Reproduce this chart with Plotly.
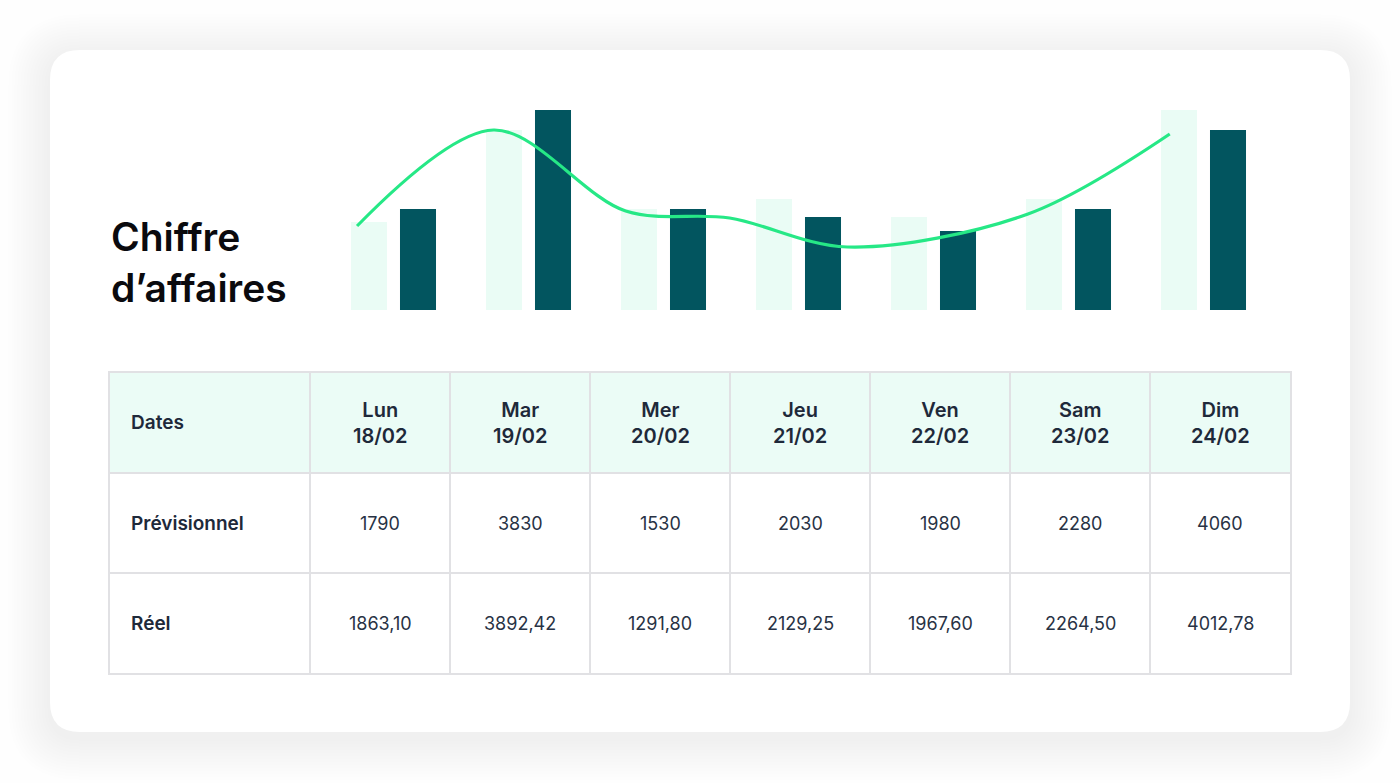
import plotly.graph_objects as go

# ---------------- data ----------------
days = ["Lun", "Mar", "Mer", "Jeu", "Ven", "Sam", "Dim"]
dates = ["18/02", "19/02", "20/02", "21/02", "22/02", "23/02", "24/02"]
previsionnel = [1790, 3830, 1530, 2030, 1980, 2280, 4060]
reel = [1863.10, 3892.42, 1291.80, 2129.25, 1967.60, 2264.50, 4012.78]

# bar heights as drawn in the picture (decorative chart)
bar_prev = [1760, 3600, 2020, 2220, 1860, 2220, 4000]
bar_reel = [2020, 4000, 2020, 1860, 1580, 2020, 3600]

# smooth trend curve (category units, value units)
curve_x = [-0.27, 0.74, 1.72, 2.49, 3.36, 4.70, 5.75]
curve_y = [1680, 3600, 1980, 1840, 1260, 1920, 3520]

row_labels = ["Prévisionnel", "Réel"]
header_label = "Dates"

# ---------------- style ----------------
W, H = 1400, 783
DARK = "#02555F"
LIGHT = "#EAFCF5"
LINE = "#26E886"
HEAD_FILL = "#EBFCF6"
GRID = "#E1E1E4"
TXT_B = "#1E293A"
TXT = "#283244"
FONT = "Inter"


def px(x):
    return x / W


def py(y):
    return 1 - y / H


def rrect(x0, y0, x1, y1, r):
    X = lambda v: f"{px(v):.5f}"
    Y = lambda v: f"{py(v):.5f}"
    return (f"M{X(x0 + r)},{Y(y0)} L{X(x1 - r)},{Y(y0)} Q{X(x1)},{Y(y0)} {X(x1)},{Y(y0 + r)} "
            f"L{X(x1)},{Y(y1 - r)} Q{X(x1)},{Y(y1)} {X(x1 - r)},{Y(y1)} "
            f"L{X(x0 + r)},{Y(y1)} Q{X(x0)},{Y(y1)} {X(x0)},{Y(y1 - r)} "
            f"L{X(x0)},{Y(y0 + r)} Q{X(x0)},{Y(y0)} {X(x0 + r)},{Y(y0)} Z")


fig = go.Figure()

# bars
xs = list(range(len(days)))
fig.add_trace(go.Bar(x=xs, y=bar_prev, marker=dict(color=LIGHT, line=dict(width=0)),
                     xaxis="x", yaxis="y", hoverinfo="skip"))
fig.add_trace(go.Bar(x=xs, y=bar_reel, marker=dict(color=DARK, line=dict(width=0)),
                     xaxis="x", yaxis="y", hoverinfo="skip"))
fig.add_trace(go.Scatter(x=curve_x, y=curve_y, mode="lines",
                         line=dict(color=LINE, width=3.2, shape="spline", smoothing=0.95),
                         xaxis="x", yaxis="y", hoverinfo="skip", cliponaxis=False))

# ---------------- table on its own axes ----------------
LABEL_W = 200 / 140  # label column width in day-column units
x_left = -0.5 - LABEL_W
n = len(days)

# invisible trace to anchor x2/y2
fig.add_trace(go.Scatter(x=[0], y=[0], mode="markers", marker=dict(opacity=0),
                         xaxis="x2", yaxis="y2", hoverinfo="skip"))

annotations = []
pad_units = 19 / 140
annotations.append(dict(x=x_left + pad_units, y=0.5, xref="x2", yref="y2", text=header_label,
                        xanchor="left", yanchor="middle", showarrow=False,
                        font=dict(family=FONT, size=19, color=TXT_B, weight=600)))
for k in range(n):
    annotations.append(dict(x=k, y=0.5, xref="x2", yref="y2",
                            text=f"{days[k]}<br>{dates[k]}", align="center",
                            xanchor="center", yanchor="middle", showarrow=False,
                            font=dict(family=FONT, size=20, color=TXT_B, weight=600)))
rows = [[str(v) for v in previsionnel],
        [f"{v:.2f}".replace(".", ",") for v in reel]]
for r, (lab, vals) in enumerate(zip(row_labels, rows)):
    yc = r + 1.5
    annotations.append(dict(x=x_left + pad_units, y=yc, xref="x2", yref="y2", text=lab,
                            xanchor="left", yanchor="middle", showarrow=False,
                            font=dict(family=FONT, size=19, color=TXT_B, weight=600)))
    for k in range(n):
        annotations.append(dict(x=k, y=yc, xref="x2", yref="y2", text=vals[k],
                                xanchor="center", yanchor="middle", showarrow=False,
                                font=dict(family=FONT, size=18, color=TXT, weight=400)))

# title
annotations.append(dict(x=px(109), y=py(262), xref="paper", yref="paper",
                        text="Chiffre<br>d’affaires", align="left",
                        xanchor="left", yanchor="middle", showarrow=False,
                        font=dict(family=FONT, size=39, color="#0A0A0E", weight=560)))

# ---------------- card & shadow ----------------
shapes = []
for i in range(14):
    e = 3 + i * 3
    shapes.append(dict(type="path", xref="paper", yref="paper",
                       path=rrect(50 - e, 50 - e + 6, 1350 + e, 732 + e + 6, 30 + e),
                       fillcolor="rgba(120,120,124,0.004)", line=dict(width=0), layer="below"))
shapes.append(dict(type="path", xref="paper", yref="paper", path=rrect(50, 50, 1350, 732, 30),
                   fillcolor="#FFFFFF", line=dict(width=0), layer="below"))
# header fill
shapes.append(dict(type="rect", xref="x2", yref="y2", x0=x_left, x1=n - 0.5, y0=0, y1=1,
                   fillcolor=HEAD_FILL, line=dict(width=0), layer="below"))

fig.update_layout(
    width=W, height=H,
    margin=dict(l=0, r=0, t=0, b=0),
    paper_bgcolor="#FEFEFE",
    plot_bgcolor="rgba(0,0,0,0)",
    showlegend=False,
    barmode="group", bargap=0.274, bargroupgap=0.265,
    xaxis=dict(domain=[px(326), px(1271)], range=[-0.5, n - 0.5], visible=False, fixedrange=True),
    yaxis=dict(domain=[py(310), py(110)], range=[0, 4000], visible=False, fixedrange=True),
    xaxis2=dict(domain=[px(110), px(1290)], range=[x_left, n - 0.5], anchor="y2",
                tickvals=[k - 0.5 for k in range(n)], showticklabels=False, ticks="",
                showgrid=True, gridcolor=GRID, gridwidth=1.5, zeroline=False,
                showline=True, mirror=True, linecolor=GRID, linewidth=1.5, fixedrange=True),
    yaxis2=dict(domain=[py(673), py(373)], range=[3, 0], anchor="x2",
                tickvals=[1, 2], showticklabels=False, ticks="",
                showgrid=True, gridcolor=GRID, gridwidth=1.5, zeroline=False,
                showline=True, mirror=True, linecolor=GRID, linewidth=1.5, fixedrange=True),
    shapes=shapes,
    annotations=annotations,
    hovermode=False,
)

fig.write_html("out.html", config={"displayModeBar": False},
               post_script="document.body.style.margin='0px';document.body.style.overflow='hidden';")
